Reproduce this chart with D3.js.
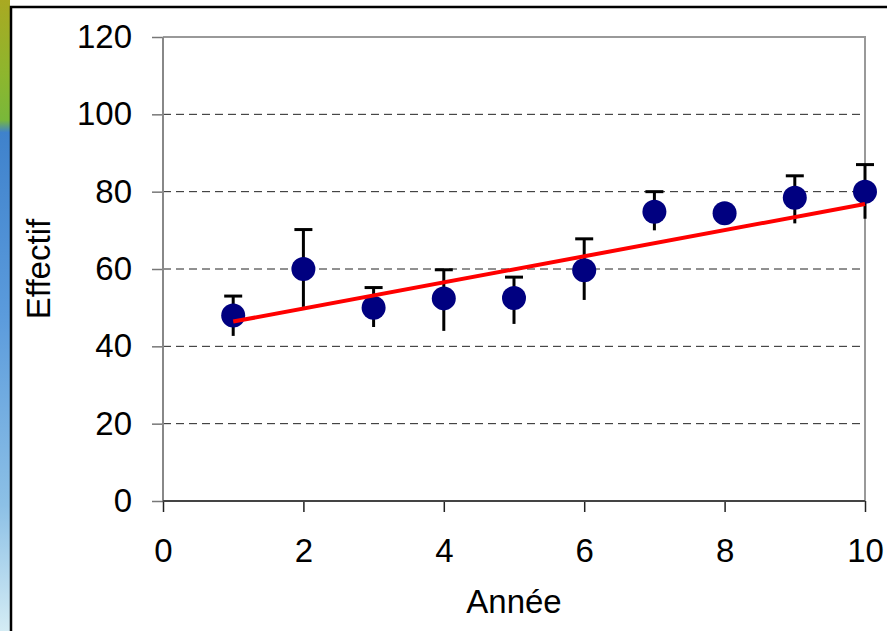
<!DOCTYPE html>
<html>
<head>
<meta charset="utf-8">
<script src="https://cdn.jsdelivr.net/npm/d3@7"></script>
<style>
  body { margin: 0; background: #fff; }
  text { font-family: "Liberation Sans", Arial, sans-serif; fill: #000; }
</style>
</head>
<body>
<div id="chart"></div>
<script>
// Data
var years = [1, 2, 3, 4, 5, 6, 7, 8, 9, 10];
var effectif = [48, 60, 50, 52.4, 52.5, 59.7, 74.8, 74.4, 78.4, 80];
var errPlus = [5, 10.2, 5.2, 7.4, 5.4, 8.1, 5.2, 1.5, 5.7, 7];
var errMinus = [5.3, 9.8, 5, 8.4, 6.7, 7.7, 4.8, 1.5, 6.6, 7];
var trendX = [1, 10];
var trendY = [46.4, 76.8];
var xTicks = [0, 2, 4, 6, 8, 10];
var yTicks = [0, 20, 40, 60, 80, 100, 120];

var svgWidth = 887;
var svgHeight = 631;

var margin = { top: 37, right: 22, bottom: 130, left: 163 };
var chartWidth = svgWidth - margin.left - margin.right;
var chartHeight = svgHeight - margin.top - margin.bottom;

var svg = d3.select("#chart")
    .append("svg")
    .attr("width", svgWidth)
    .attr("height", svgHeight);

// decorative strip on the left (slide background)
var defs = svg.append("defs");
var grad = defs.append("linearGradient")
    .attr("id", "strip")
    .attr("x1", 0).attr("y1", 0).attr("x2", 0).attr("y2", 1);
[[0, "#a9a922"], [0.12, "#8db62e"], [0.19, "#79b83a"], [0.21, "#3f82cc"],
 [0.5, "#5b9bdc"], [0.8, "#8cc0e6"], [1, "#d4ecf4"]].forEach(s => {
    grad.append("stop").attr("offset", s[0]).attr("stop-color", s[1]);
});
svg.append("rect")
    .attr("x", 0).attr("y", 0)
    .attr("width", 10).attr("height", svgHeight)
    .attr("fill", "url(#strip)");

// black frame
svg.append("rect")
    .attr("x", 11).attr("y", 7)
    .attr("width", svgWidth + 20).attr("height", svgHeight + 20)
    .attr("fill", "#fff")
    .attr("stroke", "#000")
    .attr("stroke-width", 2.5);

var chartGroup = svg.append("g")
    .attr("transform", `translate(${margin.left}, ${margin.top})`);

var x = d3.scaleLinear().domain([0, 10]).range([0, chartWidth]);
var y = d3.scaleLinear().domain([0, 120]).range([chartHeight, 0]);

// dashed gridlines
chartGroup.append("g")
    .selectAll("line")
    .data(yTicks.filter(d => d > 0 && d < 120))
    .join("line")
    .attr("x1", 0).attr("x2", chartWidth)
    .attr("y1", d => y(d)).attr("y2", d => y(d))
    .attr("stroke", "#222")
    .attr("stroke-width", 1)
    .attr("stroke-dasharray", "8,5");

// plot area border (top and right)
chartGroup.append("path")
    .attr("d", `M0,${y(120)}H${x(10)}V${y(0)}`)
    .attr("fill", "none")
    .attr("stroke", "#999")
    .attr("stroke-width", 2);

// axes
var leftAxis = d3.axisLeft(y).tickValues(yTicks).tickSize(11).tickPadding(20);
var bottomAxis = d3.axisBottom(x).tickValues(xTicks).tickSize(11).tickPadding(27);

var yAxisG = chartGroup.append("g").call(leftAxis);
yAxisG.select(".domain").remove();
yAxisG.append("line")
    .attr("x1", 0).attr("x2", 0)
    .attr("y1", y(120)).attr("y2", y(0))
    .attr("stroke", "#888").attr("stroke-width", 2);
yAxisG.selectAll(".tick line").attr("stroke", "#777").attr("stroke-width", 1.5);
yAxisG.selectAll("text").style("font-size", "33px").attr("fill", "#000");

var xAxisG = chartGroup.append("g")
    .attr("transform", `translate(0, ${chartHeight})`)
    .call(bottomAxis);
xAxisG.select(".domain").remove();
xAxisG.append("line")
    .attr("x1", x(0)).attr("x2", x(10))
    .attr("y1", 0).attr("y2", 0)
    .attr("stroke", "#444").attr("stroke-width", 2);
xAxisG.selectAll(".tick line").attr("stroke", "#222").attr("stroke-width", 1.5);
xAxisG.selectAll("text").style("font-size", "33px").attr("fill", "#000");

// error bars
var points = years.map((d, i) => ({ year: d, value: effectif[i], up: errPlus[i], down: errMinus[i] }));

var errG = chartGroup.append("g")
    .attr("stroke", "#000")
    .attr("stroke-width", 3);

errG.selectAll(".bar")
    .data(points)
    .join("line")
    .attr("class", "bar")
    .attr("x1", d => x(d.year)).attr("x2", d => x(d.year))
    .attr("y1", d => y(d.value + d.up))
    .attr("y2", d => y(d.value - d.down));

errG.selectAll(".cap")
    .data(points)
    .join("line")
    .attr("class", "cap")
    .attr("x1", d => x(d.year) - 9).attr("x2", d => x(d.year) + 9)
    .attr("y1", d => y(d.value + d.up))
    .attr("y2", d => y(d.value + d.up));

// points
chartGroup.append("g")
    .selectAll("circle")
    .data(points)
    .join("circle")
    .attr("cx", d => x(d.year))
    .attr("cy", d => y(d.value))
    .attr("r", 12)
    .attr("fill", "#000080");

// trend line
chartGroup.append("path")
    .datum(trendX.map((d, i) => [d, trendY[i]]))
    .attr("d", d3.line().x(d => x(d[0])).y(d => y(d[1])))
    .attr("fill", "none")
    .attr("stroke", "#ff0000")
    .attr("stroke-width", 4);

// axis titles
chartGroup.append("text")
    .attr("transform", "rotate(-90)")
    .attr("x", -chartHeight / 2)
    .attr("y", -113)
    .attr("text-anchor", "middle")
    .style("font-size", "33px")
    .text("Effectif");

chartGroup.append("text")
    .attr("x", chartWidth / 2)
    .attr("y", chartHeight + 112)
    .attr("text-anchor", "middle")
    .style("font-size", "33px")
    .text("Année");
</script>
</body>
</html>
